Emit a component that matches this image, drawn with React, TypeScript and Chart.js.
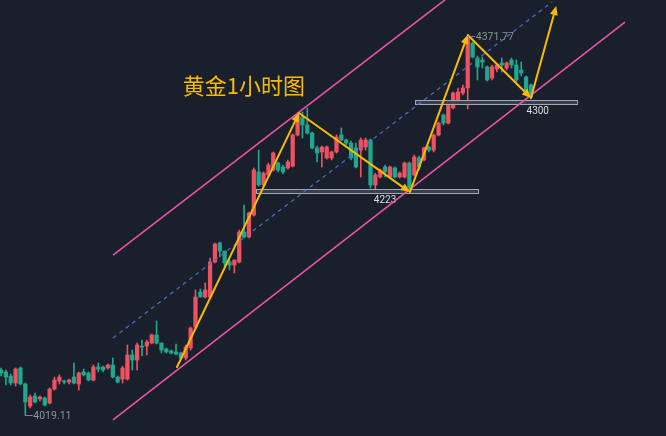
import React, { useEffect, useRef } from 'react';
import { Chart, registerables } from 'chart.js';

Chart.register(...registerables);

// ---- candle data (XAUUSD 1H) ----
const opens = [
  4061.0, 4059.2, 4055.4, 4048.9, 4062.9, 4048.0, 4027.5, 4036.8, 4034.0, 4035.0,
  4030.3, 4043.3, 4050.8, 4050.8, 4049.8, 4054.5, 4048.0, 4059.2, 4058.2, 4051.7,
  4063.8, 4063.8, 4062.9, 4065.7, 4054.5, 4052.6, 4052.6, 4075.0, 4070.3, 4083.3,
  4083.3, 4086.1, 4093.6, 4086.1, 4080.6, 4078.7, 4077.8, 4076.8, 4072.2, 4081.5,
  4101.0, 4133.6, 4128.9, 4128.9, 4161.5, 4179.2, 4171.7, 4161.5, 4158.7, 4161.5,
  4189.4, 4184.8, 4205.2, 4245.3, 4233.2, 4242.5, 4247.1, 4253.6, 4249.9, 4249.0,
  4250.8, 4279.7, 4296.4, 4289.0, 4281.5, 4267.6, 4263.9, 4258.3, 4258.3, 4263.9,
  4279.7, 4275.0, 4272.2, 4267.6, 4265.7, 4268.5, 4275.0, 4233.2, 4240.6, 4249.9,
  4240.6, 4249.0, 4240.6, 4240.6, 4253.6, 4242.5, 4258.3, 4256.4, 4268.5, 4265.7,
  4279.7, 4298.3, 4290.8, 4304.8, 4310.4, 4318.8, 4323.4, 4365.3, 4351.3, 4349.5,
  4343.0, 4332.7, 4341.1, 4346.7, 4342.0, 4349.5, 4344.8, 4340.2, 4333.7, 4326.2,
];
const highs = [
  4062.9, 4061.0, 4057.3, 4062.9, 4063.8, 4048.9, 4037.8, 4039.6, 4036.8, 4035.9,
  4044.3, 4054.5, 4056.4, 4051.7, 4052.6, 4067.5, 4059.2, 4061.9, 4059.2, 4065.7,
  4067.5, 4064.7, 4066.6, 4072.2, 4055.4, 4064.7, 4084.3, 4079.6, 4086.1, 4088.9,
  4088.9, 4094.5, 4106.6, 4086.1, 4081.5, 4079.6, 4085.2, 4077.8, 4084.3, 4101.0,
  4135.5, 4136.4, 4142.0, 4165.2, 4179.2, 4180.1, 4171.7, 4163.4, 4163.4, 4191.3,
  4214.5, 4208.0, 4249.0, 4265.7, 4245.3, 4253.6, 4263.9, 4254.6, 4251.8, 4256.4,
  4280.6, 4300.2, 4301.1, 4304.8, 4282.5, 4269.4, 4269.4, 4269.4, 4264.8, 4279.7,
  4286.2, 4276.0, 4274.1, 4272.2, 4276.9, 4276.9, 4276.0, 4244.3, 4248.0, 4251.8,
  4250.8, 4249.9, 4245.3, 4254.6, 4254.6, 4261.1, 4260.1, 4268.5, 4269.4, 4280.6,
  4291.8, 4299.2, 4308.5, 4319.7, 4323.4, 4326.2, 4371.77, 4366.2, 4353.2, 4352.3,
  4343.9, 4344.8, 4345.7, 4351.3, 4347.6, 4351.3, 4349.5, 4347.6, 4334.6, 4327.1,
];
const lows = [
  4055.4, 4047.1, 4047.1, 4046.1, 4047.1, 4019.11, 4025.7, 4030.3, 4032.2, 4027.5,
  4029.4, 4042.4, 4048.0, 4048.0, 4048.0, 4048.0, 4042.4, 4055.4, 4050.8, 4050.8,
  4059.2, 4059.2, 4061.9, 4053.6, 4048.9, 4048.9, 4051.7, 4061.0, 4061.0, 4074.0,
  4075.0, 4085.2, 4085.2, 4076.8, 4076.8, 4075.9, 4075.0, 4070.3, 4070.3, 4079.6,
  4100.1, 4128.9, 4128.0, 4128.0, 4160.6, 4166.2, 4156.9, 4154.1, 4151.3, 4160.6,
  4183.8, 4183.8, 4204.3, 4232.2, 4232.2, 4241.5, 4246.2, 4245.3, 4243.4, 4248.0,
  4249.9, 4278.8, 4276.9, 4280.6, 4266.7, 4254.6, 4249.9, 4257.3, 4256.4, 4262.9,
  4274.1, 4270.4, 4256.4, 4249.0, 4240.6, 4265.7, 4230.4, 4225.7, 4239.7, 4240.6,
  4239.7, 4239.7, 4239.7, 4239.7, 4227.6, 4241.5, 4247.1, 4255.5, 4263.9, 4263.9,
  4278.8, 4289.0, 4289.9, 4303.9, 4308.5, 4316.9, 4303.9, 4351.3, 4330.9, 4342.0,
  4329.9, 4330.9, 4338.3, 4338.3, 4340.2, 4342.0, 4329.0, 4334.6, 4318.8, 4313.2,
];
const closes = [
  4058.2, 4054.5, 4048.9, 4061.9, 4048.0, 4031.2, 4035.9, 4031.2, 4035.9, 4028.4,
  4043.3, 4051.7, 4054.5, 4049.8, 4051.7, 4048.9, 4058.2, 4056.4, 4051.7, 4063.8,
  4061.9, 4061.0, 4065.7, 4054.5, 4049.8, 4062.9, 4075.0, 4070.3, 4084.3, 4082.4,
  4087.1, 4093.6, 4086.1, 4079.6, 4077.8, 4076.8, 4075.9, 4072.2, 4082.4, 4100.1,
  4128.9, 4128.9, 4135.5, 4161.5, 4178.3, 4171.7, 4160.6, 4158.7, 4163.4, 4189.4,
  4184.8, 4207.1, 4247.1, 4233.2, 4244.3, 4251.8, 4262.9, 4247.1, 4245.3, 4254.6,
  4279.7, 4298.3, 4289.0, 4281.5, 4267.6, 4262.9, 4268.5, 4268.5, 4263.9, 4277.8,
  4275.0, 4272.2, 4258.3, 4249.9, 4275.0, 4275.0, 4233.2, 4242.5, 4247.1, 4245.3,
  4249.9, 4240.6, 4244.3, 4253.6, 4230.4, 4259.2, 4249.9, 4267.6, 4265.7, 4279.7,
  4290.8, 4290.8, 4307.6, 4318.8, 4319.7, 4323.4, 4369.9, 4352.3, 4343.0, 4347.6,
  4330.9, 4343.0, 4344.8, 4344.8, 4346.7, 4344.8, 4330.9, 4337.4, 4319.7, 4315.0,
];

// ---- drawn analysis (candle index, price) ----
const channelUpper = [[23.04, 4168.0], [98.5, 4430.4]];
const channelMiddle = [[23.04, 4090.8], [113.33, 4403.4]];
const channelLower = [[23.04, 4014.5], [128.34, 4384.8]];
const zigzagIdx = [36.2, 61.3, 84.1, 96.0, 109.0, 114.2];
const zigzagPrice = [4063.8, 4300.2, 4226.6, 4372.7, 4314.1, 4399.7];
const zoneFrom = [52.45, 85.15];
const zoneTo = [98.1, 118.4];
const zoneTop = [4229.4, 4312.2];
const zoneBottom = [4225.7, 4308.5];
const zoneLabels = ['4223', '4300'];
const zoneLabelIdx = [79.0, 110.4];
const extremeIdx = [96, 5];
const extremePrice = [4371.77, 4019.11];
const extremeLabels = ['4371.77', '4019.11'];
const titleText = '黄金1小时图';
const titleIdx = 37.4;
const titlePrice = 4325.3;

const BG = '#1a1f2c';
const UP = '#ec5260';
const DOWN = '#20a78f';
const PINK = '#ec52a6';
const BLUE = '#4d6cd0';
const GOLD = '#f7bb05';

function arrowHead(ctx: CanvasRenderingContext2D, x0: number, y0: number, x1: number, y1: number) {
  const a = Math.atan2(y1 - y0, x1 - x0);
  const len = 9;
  const w = 4;
  ctx.beginPath();
  ctx.moveTo(x1, y1);
  ctx.lineTo(x1 - len * Math.cos(a) + w * Math.sin(a), y1 - len * Math.sin(a) - w * Math.cos(a));
  ctx.lineTo(x1 - len * Math.cos(a) - w * Math.sin(a), y1 - len * Math.sin(a) + w * Math.cos(a));
  ctx.closePath();
  ctx.fill();
}

const overlayPlugin = {
  id: 'overlay',
  beforeDraw(chart: any) {
    const ctx = chart.ctx;
    ctx.save();
    ctx.fillStyle = BG;
    ctx.fillRect(0, 0, chart.width, chart.height);
    ctx.restore();
  },
  afterDatasetsDraw(chart: any) {
    const ctx: CanvasRenderingContext2D = chart.ctx;
    const xs = chart.scales.x;
    const ys = chart.scales.y;
    const px = (i: number) => xs.getPixelForValue(i);
    const py = (v: number) => ys.getPixelForValue(v);
    ctx.save();

    // support zones
    for (let k = 0; k < zoneFrom.length; k++) {
      const x0 = px(zoneFrom[k]);
      const x1 = px(zoneTo[k]);
      const y0 = py(zoneTop[k]);
      const y1 = py(zoneBottom[k]);
      ctx.fillStyle = 'rgba(60,66,80,0.9)';
      ctx.fillRect(x0, y0, x1 - x0, y1 - y0);
      ctx.strokeStyle = '#a3a8b2';
      ctx.lineWidth = 1;
      ctx.strokeRect(Math.round(x0) + 0.5, Math.round(y0) + 0.5, Math.round(x1 - x0), Math.round(y1 - y0));
      ctx.fillStyle = '#dcdee4';
      ctx.font = '10px Roboto, "Open Sans", sans-serif';
      ctx.textAlign = 'center';
      ctx.textBaseline = 'top';
      ctx.fillText(zoneLabels[k], px(zoneLabelIdx[k]), y1 + 2);
    }

    // channel
    const line = (pts: number[][], color: string, width: number, dash: number[]) => {
      ctx.beginPath();
      ctx.setLineDash(dash);
      ctx.strokeStyle = color;
      ctx.lineWidth = width;
      ctx.moveTo(px(pts[0][0]), py(pts[0][1]));
      ctx.lineTo(px(pts[1][0]), py(pts[1][1]));
      ctx.stroke();
      ctx.setLineDash([]);
    };
    line(channelUpper, PINK, 1.6, []);
    line(channelLower, PINK, 1.6, []);
    line(channelMiddle, BLUE, 1.2, [4, 4]);

    // zigzag arrows
    ctx.strokeStyle = GOLD;
    ctx.fillStyle = GOLD;
    ctx.lineWidth = 2;
    ctx.lineCap = 'round';
    for (let k = 0; k < zigzagIdx.length - 1; k++) {
      const x0 = px(zigzagIdx[k]);
      const y0 = py(zigzagPrice[k]);
      const x1 = px(zigzagIdx[k + 1]);
      const y1 = py(zigzagPrice[k + 1]);
      const a = Math.atan2(y1 - y0, x1 - x0);
      ctx.beginPath();
      ctx.moveTo(x0, y0);
      ctx.lineTo(x1 - 6 * Math.cos(a), y1 - 6 * Math.sin(a));
      ctx.stroke();
      arrowHead(ctx, x0, y0, x1, y1);
    }

    // extreme price labels
    ctx.font = '10.5px Roboto, "Open Sans", sans-serif';
    ctx.textAlign = 'left';
    ctx.textBaseline = 'middle';
    for (let k = 0; k < extremeIdx.length; k++) {
      const x = px(extremeIdx[k]);
      const y = py(extremePrice[k]);
      ctx.strokeStyle = '#8d929c';
      ctx.lineWidth = 1;
      ctx.setLineDash([1, 1]);
      ctx.beginPath();
      ctx.moveTo(x, Math.round(y) + 0.5);
      ctx.lineTo(x + 7, Math.round(y) + 0.5);
      ctx.stroke();
      ctx.setLineDash([]);
      ctx.fillStyle = '#8d929c';
      ctx.fillText(extremeLabels[k], x + 8, y + 1);
    }

    // title
    ctx.fillStyle = GOLD;
    ctx.font = '22px "Noto Sans CJK SC", sans-serif';
    ctx.textAlign = 'left';
    ctx.textBaseline = 'middle';
    ctx.fillText(titleText, px(titleIdx), py(titlePrice));

    ctx.restore();
  },
};

export default function App() {
  const ref = useRef<HTMLCanvasElement | null>(null);
  useEffect(() => {
    if (!ref.current) return;
    const idx = opens.map((_, i) => i);
    const colors = idx.map((i) => (closes[i] >= opens[i] ? UP : DOWN));
    const chart = new Chart(ref.current, {
      type: 'bar',
      data: {
        datasets: [
          {
            data: idx.map((i) => ({ x: i, y: [opens[i], closes[i]] })) as any,
            backgroundColor: colors,
            barThickness: 3.6,
            minBarLength: 1,
            grouped: false,
            order: 1,
          },
          {
            data: idx.map((i) => ({ x: i, y: [lows[i], highs[i]] })) as any,
            backgroundColor: colors,
            barThickness: 1,
            grouped: false,
            order: 2,
          },
        ],
      },
      options: {
        animation: false,
        responsive: true,
        maintainAspectRatio: false,
        layout: { padding: 0 },
        plugins: { legend: { display: false }, tooltip: { enabled: false }, title: { display: false } },
        scales: {
          x: { type: 'linear', min: -0.206, max: 136.78, display: false, offset: false },
          y: { type: 'linear', min: 3999.6, max: 4405.3, display: false },
        },
      },
      plugins: [overlayPlugin],
    });
    return () => chart.destroy();
  }, []);
  return (
    <div style={{ position: 'fixed', left: 0, top: 0, width: 666, height: 436, background: BG }}>
      <canvas ref={ref} />
    </div>
  );
}
